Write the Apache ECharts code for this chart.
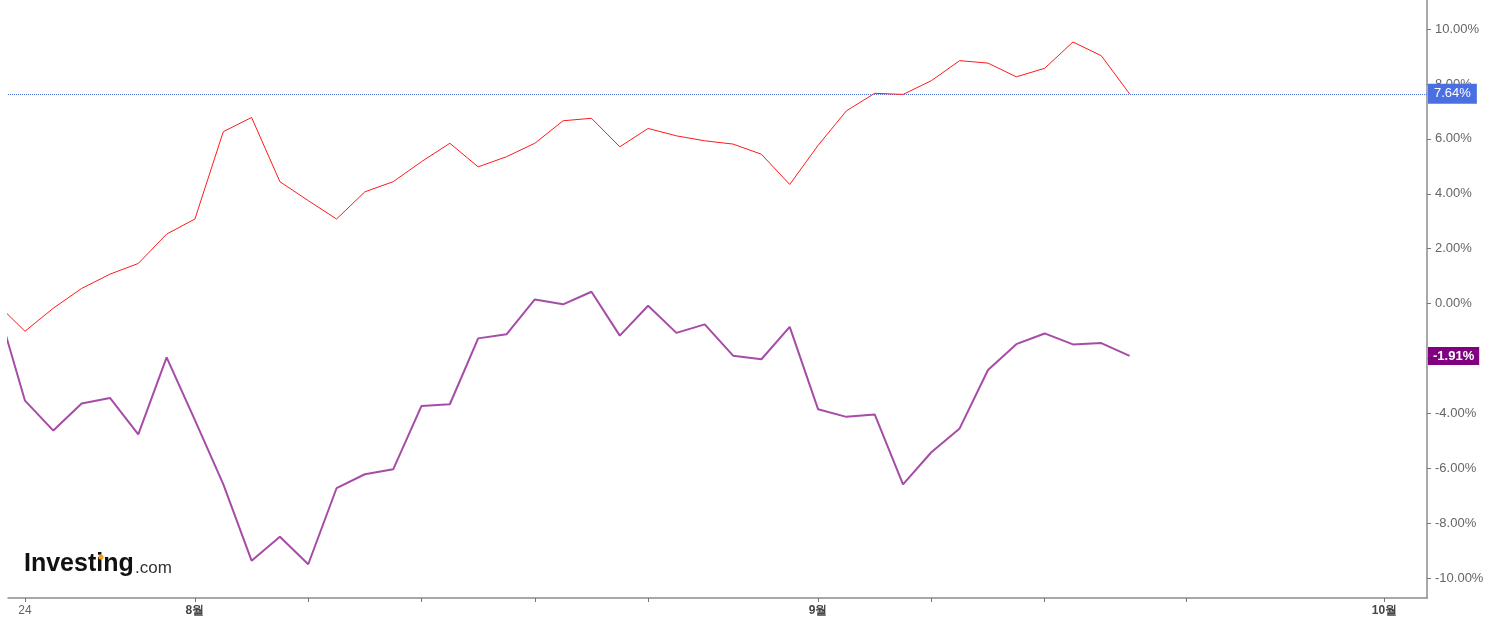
<!DOCTYPE html>
<html>
<head>
<meta charset="utf-8">
<script src="https://cdn.jsdelivr.net/npm/echarts@6/dist/echarts.min.js"></script>
<style>
html,body{margin:0;padding:0;background:#fff;}
#c{width:1498px;height:626px;}
</style>
</head>
<body>
<div id="c"></div>
<script>
// trading-day index of each point (first point = base day, 0%)
const startIndex = -1;
const redValues = [0, -1.01, -0.17, 0.55, 1.07, 1.46, 2.53, 3.08, 6.26, 6.78, 4.44, 3.75, 3.08, 4.07, 4.44, 5.17, 5.84, 4.98, 5.35, 5.84, 6.66, 6.75, 5.71, 6.38, 6.11, 5.93, 5.81, 5.44, 4.34, 5.76, 7.02, 7.66, 7.62, 8.12, 8.85, 8.76, 8.26, 8.57, 9.53, 9.03, 7.64];
const purpleValues = [0, -3.54, -4.63, -3.64, -3.44, -4.77, -1.96, -4.25, -6.58, -9.37, -8.50, -9.50, -6.73, -6.22, -6.04, -3.73, -3.67, -1.27, -1.12, 0.15, -0.03, 0.43, -1.17, -0.08, -1.07, -0.76, -1.90, -2.03, -0.85, -3.85, -4.13, -4.04, -6.59, -5.42, -4.55, -2.42, -1.48, -1.09, -1.49, -1.44, -1.91];
const xTickIndex = [0, 6, 10, 14, 18, 22, 28, 32, 36, 41, 48];
const xLabelIndex = [0, 6, 28, 48];
const xLabelText = ['24', '8월', '9월', '10월'];
const yTicks = [-10, -8, -6, -4, -2, 0, 2, 4, 6, 8, 10];

const toXY = arr => arr.map((v, i) => [startIndex + i, v]);
const last = arr => arr[arr.length - 1];
const FONT = 'Liberation Sans, Arial, sans-serif';

const chart = echarts.init(document.getElementById('c'), null, {renderer: 'canvas'});
chart.setOption({
  animation: false,
  backgroundColor: '#ffffff',
  grid: {left: 8, right: 71, top: 0, bottom: 28, containLabel: false},
  xAxis: {
    type: 'value', min: -0.6, max: 49.5,
    axisLine: {show: true, onZero: false, lineStyle: {color: '#8c8c8c', width: 1.5}},
    axisTick: {show: true, length: 4, customValues: xTickIndex, lineStyle: {color: '#777'}},
    splitLine: {show: false},
    axisLabel: {
      customValues: xLabelIndex, margin: 7,
      fontFamily: FONT, fontSize: 12,
      formatter: function (v) {
        const k = xLabelIndex.indexOf(Math.round(v));
        if (k < 0) return '';
        return k === 0 ? '{n|' + xLabelText[k] + '}' : '{b|' + xLabelText[k] + '}';
      },
      rich: {
        n: {color: '#666', fontSize: 12, fontFamily: FONT},
        b: {color: '#444', fontSize: 12, fontWeight: 'bold', fontFamily: FONT}
      }
    }
  },
  yAxis: {
    type: 'value', position: 'right', min: -10.73, max: 11.06,
    axisLine: {show: true, onZero: false, lineStyle: {color: '#8c8c8c', width: 1.5}},
    axisTick: {show: true, inside: false, length: 4, customValues: yTicks, lineStyle: {color: '#777'}},
    splitLine: {show: false},
    axisLabel: {
      customValues: yTicks, margin: 8, color: '#666',
      fontFamily: FONT, fontSize: 13,
      formatter: v => v.toFixed(2) + '%'
    }
  },
  series: [
    {
      name: 'Series 1', type: 'line', data: toXY(purpleValues), symbol: 'none', z: 3,
      lineStyle: {color: '#a64ca6', width: 2}, clip: true,
      markLine: {
        silent: true, symbol: ['none', 'none'], z: 5,
        lineStyle: {color: 'rgba(0,0,0,0)', width: 0},
        label: {
          position: 'end', distance: 1, formatter: () => last(purpleValues).toFixed(2) + '%',
          color: '#fff', backgroundColor: '#800080', padding: [3, 5, 2, 5],
          fontFamily: FONT, fontSize: 13, fontWeight: 'bold'
        },
        data: [{yAxis: last(purpleValues)}]
      }
    },
    {
      name: 'Series 2', type: 'line', data: toXY(redValues), symbol: 'none', z: 4,
      lineStyle: {color: '#ff1a1a', width: 1}, clip: true,
      markLine: {
        silent: true, symbol: ['none', 'none'], z: 2,
        lineStyle: {color: '#4d6fdc', type: 'dotted', width: 1},
        label: {
          position: 'end', distance: 1, formatter: () => last(redValues).toFixed(2) + '%',
          color: '#fff', backgroundColor: '#4a6fe3', padding: [4, 6, 3, 6],
          fontFamily: FONT, fontSize: 13
        },
        data: [{yAxis: last(redValues)}]
      }
    }
  ],
  graphic: [
    {type: 'text', left: 24, top: 552, z: 10,
     style: {text: 'Investing', font: 'bold 25px "Liberation Sans", Arial, sans-serif', fill: '#111'}},
    {type: 'text', left: 135, top: 560, z: 10,
     style: {text: '.com', font: '17px "Liberation Sans", Arial, sans-serif', fill: '#333'}},
    {type: 'circle', shape: {cx: 101, cy: 557, r: 2.6}, style: {fill: '#f7a21b'}, z: 11}
  ]
});
</script>
</body>
</html>
